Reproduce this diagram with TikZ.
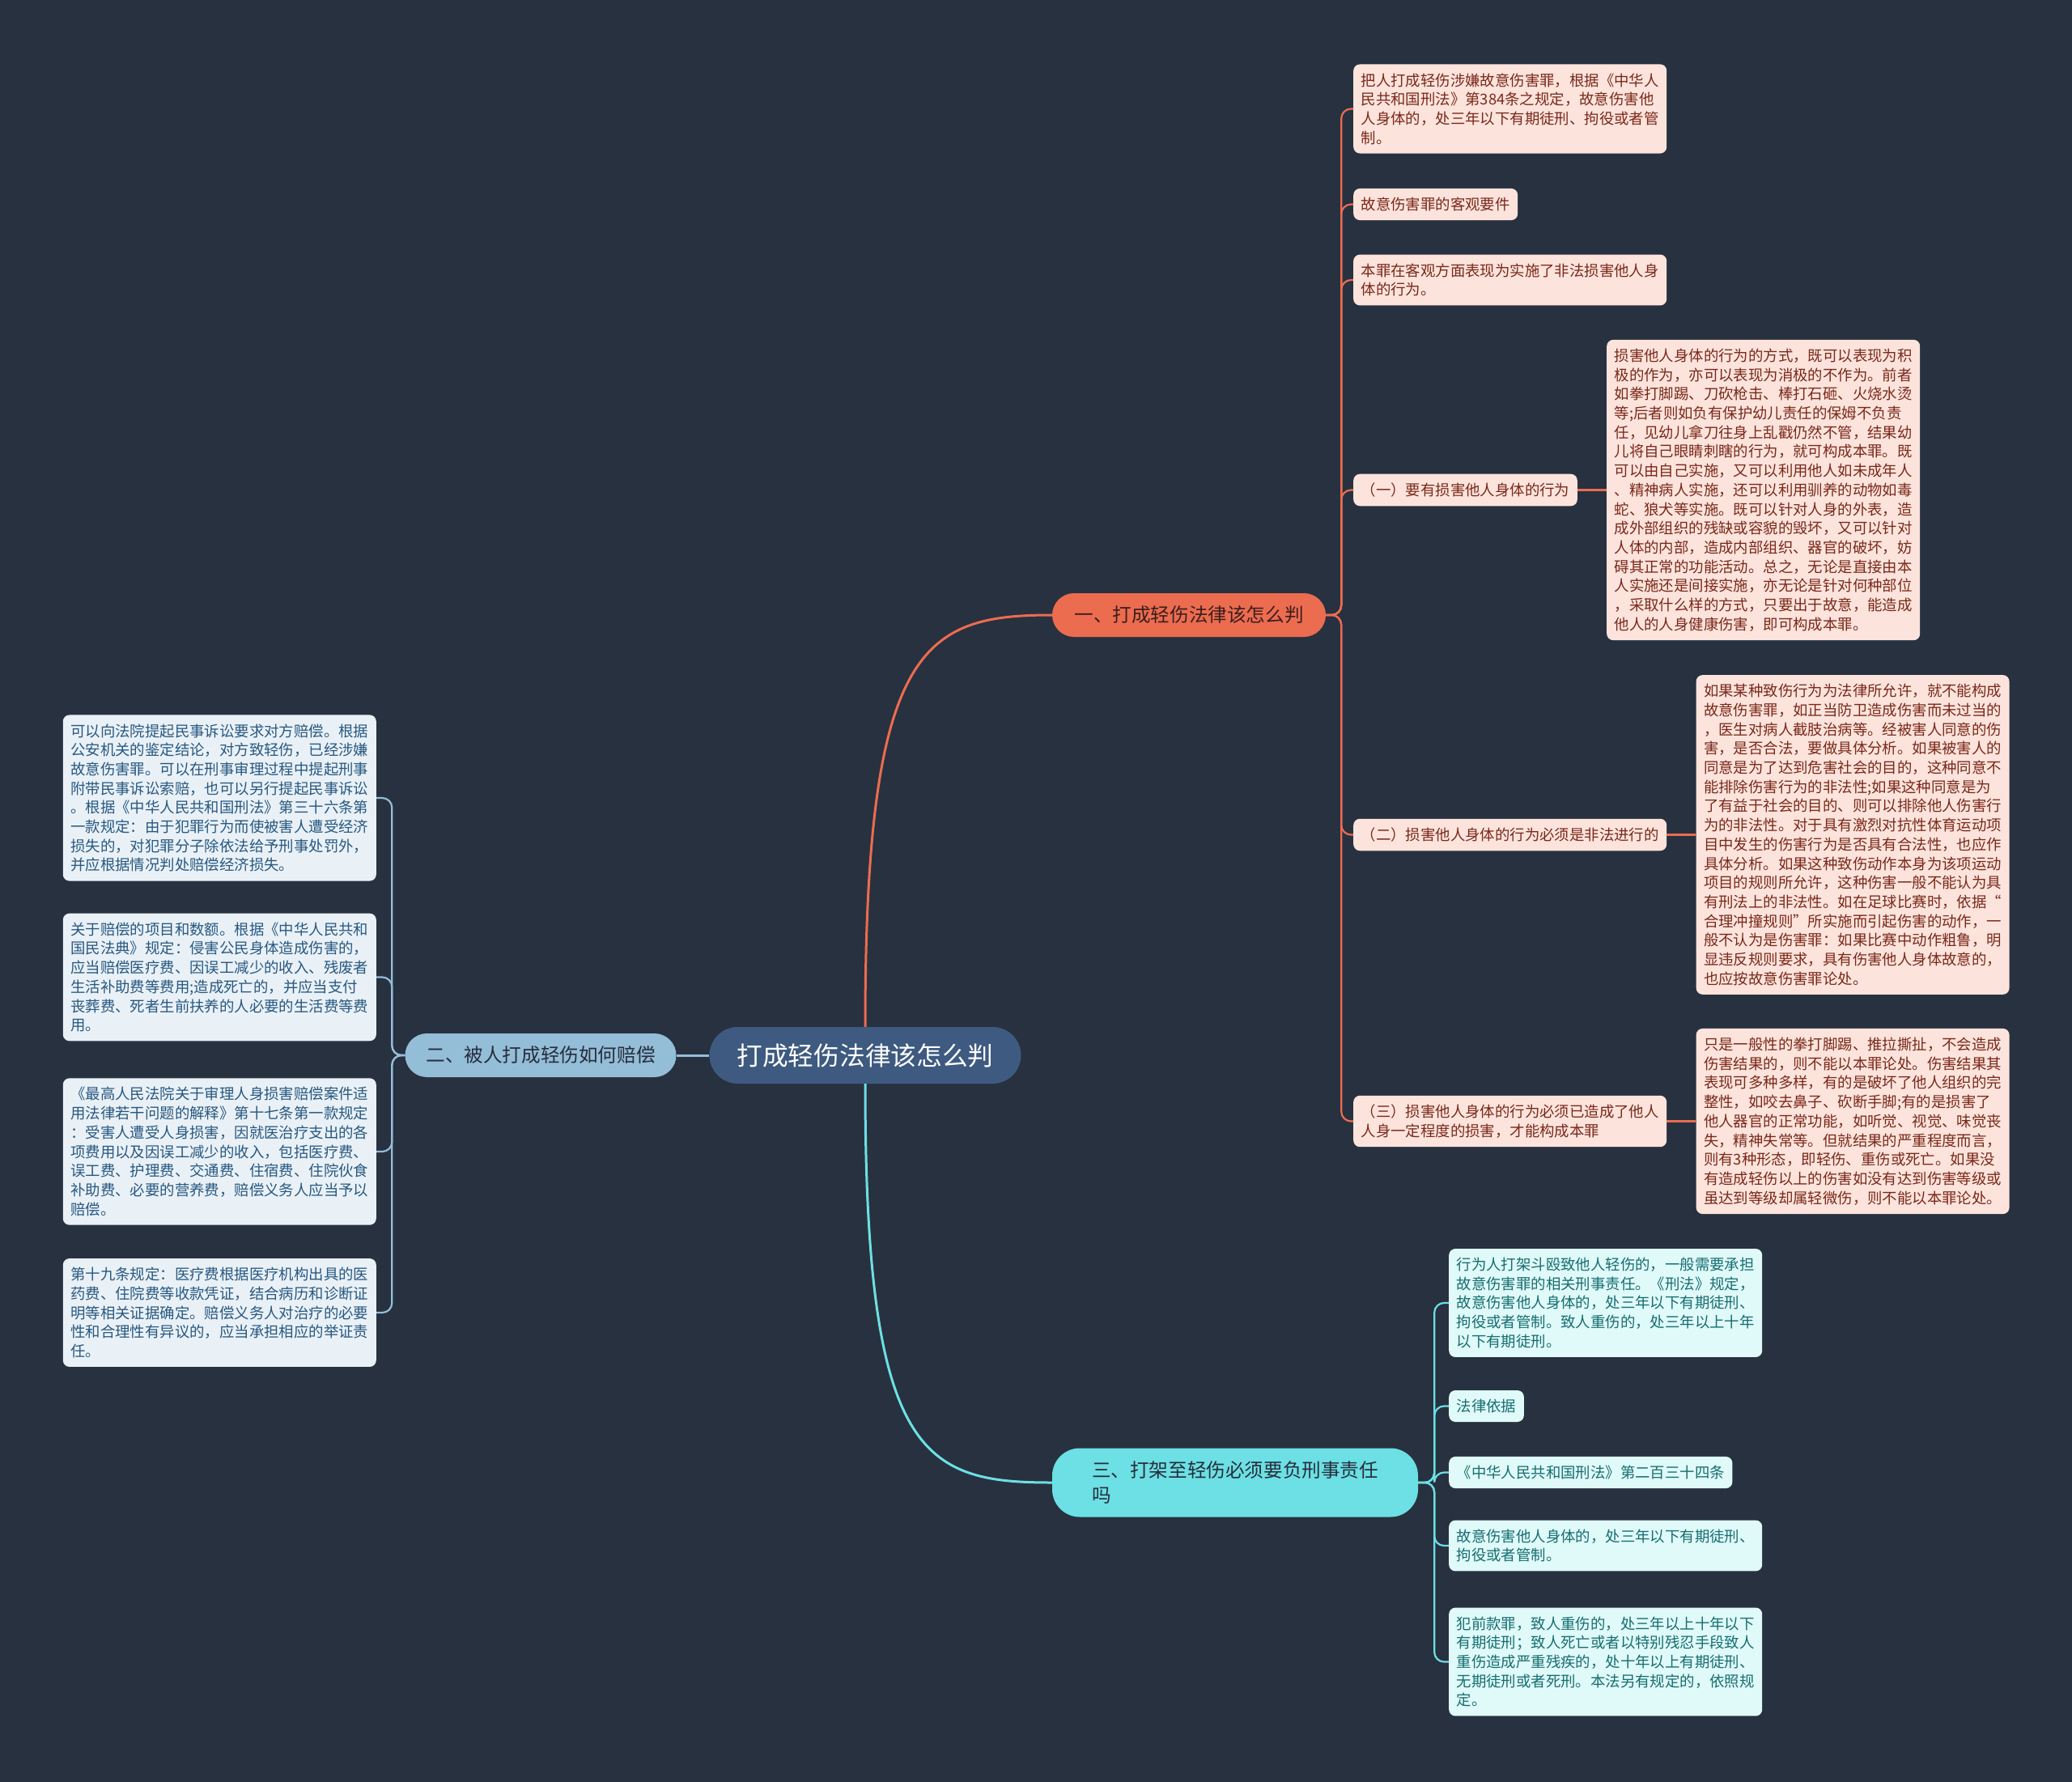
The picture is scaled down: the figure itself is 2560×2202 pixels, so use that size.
\documentclass[tikz,border=0pt]{standalone}
\usepackage{fontspec}
\setmainfont{Noto Sans CJK SC}
\usetikzlibrary{positioning}

\definecolor{fondo}{RGB}{40,49,63}
\definecolor{temafill}{RGB}{62,90,128}
\definecolor{cheng}{RGB}{236,108,80}
\definecolor{lan}{RGB}{148,189,216}
\definecolor{qing}{RGB}{108,224,228}
\definecolor{hongdi}{RGB}{252,228,220}
\definecolor{hongzi}{RGB}{122,40,26}
\definecolor{landi}{RGB}{233,241,247}
\definecolor{lanzi}{RGB}{40,88,128}
\definecolor{qingdi}{RGB}{224,249,249}
\definecolor{qingzi}{RGB}{22,110,112}
\definecolor{shenzi}{RGB}{38,46,60}
\definecolor{zongzi}{RGB}{60,30,28}

\begin{document}
\begin{tikzpicture}[x=1pt, y=-1pt,
    tema/.style={fill=temafill, text=white, rounded corners=35pt, minimum width=385pt, minimum height=70pt, font=\fontsize{31.7}{38}\selectfont},
    rama/.style={text=shenzi, rounded corners=27pt, minimum height=54pt, font=\fontsize{23.6}{31}\selectfont},
    hoja/.style={rounded corners=8pt, inner xsep=9.5pt, inner ysep=11pt, align=left, font=\fontsize{18.4}{23.7}\selectfont},
    hojaA/.style={hoja, fill=hongdi, text=hongzi},
    hojaB/.style={hoja, fill=landi, text=lanzi},
    hojaC/.style={hoja, fill=qingdi, text=qingzi},
    enlace/.style={line width=2.2pt, rounded corners=12pt}
]
\fill[fondo] (0,0) rectangle (2560,2202);

% Tema central
\node[tema] (zhuti) at (1069,1304) {打成轻伤法律该怎么判};

% Rama 1: panjue
\node[rama, fill=cheng, text=zongzi, minimum width=338pt] (panjue) at (1469,760) {一、打成轻伤法律该怎么判};
\node[hojaA, anchor=west] (pj1) at (1672,134.5) {把人打成轻伤涉嫌故意伤害罪，根据《中华人\\民共和国刑法》第384条之规定，故意伤害他\\人身体的，处三年以下有期徒刑、拘役或者管\\制。};
\node[hojaA, anchor=west] (pj2) at (1672,252.5) {故意伤害罪的客观要件};
\node[hojaA, anchor=west] (pj3) at (1672,346) {本罪在客观方面表现为实施了非法损害他人身\\体的行为。};
\node[hojaA, anchor=west] (pj4) at (1672,605.5) {（一）要有损害他人身体的行为};
\node[hojaA, right=36pt of pj4] (pj4a) {损害他人身体的行为的方式，既可以表现为积\\极的作为，亦可以表现为消极的不作为。前者\\如拳打脚踢、刀砍枪击、棒打石砸、火烧水烫\\等;后者则如负有保护幼儿责任的保姆不负责\\任，见幼儿拿刀往身上乱戳仍然不管，结果幼\\儿将自己眼睛刺瞎的行为，就可构成本罪。既\\可以由自己实施，又可以利用他人如未成年人\\、精神病人实施，还可以利用驯养的动物如毒\\蛇、狼犬等实施。既可以针对人身的外表，造\\成外部组织的残缺或容貌的毁坏，又可以针对\\人体的内部，造成内部组织、器官的破坏，妨\\碍其正常的功能活动。总之，无论是直接由本\\人实施还是间接实施，亦无论是针对何种部位\\，采取什么样的方式，只要出于故意，能造成\\他人的人身健康伤害，即可构成本罪。};
\node[hojaA, anchor=west] (pj5) at (1672,1031.5) {（二）损害他人身体的行为必须是非法进行的};
\node[hojaA, right=36pt of pj5] (pj5a) {如果某种致伤行为为法律所允许，就不能构成\\故意伤害罪，如正当防卫造成伤害而未过当的\\，医生对病人截肢治病等。经被害人同意的伤\\害，是否合法，要做具体分析。如果被害人的\\同意是为了达到危害社会的目的，这种同意不\\能排除伤害行为的非法性;如果这种同意是为\\了有益于社会的目的、则可以排除他人伤害行\\为的非法性。对于具有激烈对抗性体育运动项\\目中发生的伤害行为是否具有合法性，也应作\\具体分析。如果这种致伤动作本身为该项运动\\项目的规则所允许，这种伤害一般不能认为具\\有刑法上的非法性。如在足球比赛时，依据“\\合理冲撞规则”所实施而引起伤害的动作，一\\般不认为是伤害罪：如果比赛中动作粗鲁，明\\显违反规则要求，具有伤害他人身体故意的，\\也应按故意伤害罪论处。};
\node[hojaA, anchor=west] (pj6) at (1672,1385.5) {（三）损害他人身体的行为必须已造成了他人\\人身一定程度的损害，才能构成本罪};
\node[hojaA, right=36pt of pj6] (pj6a) {只是一般性的拳打脚踢、推拉撕扯，不会造成\\伤害结果的，则不能以本罪论处。伤害结果其\\表现可多种多样，有的是破坏了他人组织的完\\整性，如咬去鼻子、砍断手脚;有的是损害了\\他人器官的正常功能，如听觉、视觉、味觉丧\\失，精神失常等。但就结果的严重程度而言，\\则有3种形态，即轻伤、重伤或死亡。如果没\\有造成轻伤以上的伤害如没有达到伤害等级或\\虽达到等级却属轻微伤，则不能以本罪论处。};

% Rama 2: peichang
\node[rama, fill=lan, minimum width=335pt] (peichang) at (668,1304) {二、被人打成轻伤如何赔偿};
\node[hojaB, anchor=east] (pc1) at (465,986) {可以向法院提起民事诉讼要求对方赔偿。根据\\公安机关的鉴定结论，对方致轻伤，已经涉嫌\\故意伤害罪。可以在刑事审理过程中提起刑事\\附带民事诉讼索赔，也可以另行提起民事诉讼\\。根据《中华人民共和国刑法》第三十六条第\\一款规定：由于犯罪行为而使被害人遭受经济\\损失的，对犯罪分子除依法给予刑事处罚外，\\并应根据情况判处赔偿经济损失。};
\node[hojaB, anchor=east] (pc2) at (465,1207.5) {关于赔偿的项目和数额。根据《中华人民共和\\国民法典》规定：侵害公民身体造成伤害的，\\应当赔偿医疗费、因误工减少的收入、残废者\\生活补助费等费用;造成死亡的，并应当支付\\丧葬费、死者生前扶养的人必要的生活费等费\\用。};
\node[hojaB, anchor=east] (pc3) at (465,1423) {《最高人民法院关于审理人身损害赔偿案件适\\用法律若干问题的解释》第十七条第一款规定\\：受害人遭受人身损害，因就医治疗支出的各\\项费用以及因误工减少的收入，包括医疗费、\\误工费、护理费、交通费、住宿费、住院伙食\\补助费、必要的营养费，赔偿义务人应当予以\\赔偿。};
\node[hojaB, anchor=east] (pc4) at (465,1622) {第十九条规定：医疗费根据医疗机构出具的医\\药费、住院费等收款凭证，结合病历和诊断证\\明等相关证据确定。赔偿义务人对治疗的必要\\性和合理性有异议的，应当承担相应的举证责\\任。};

% Rama 3: zeren
\node[rama, fill=qing, minimum width=452pt, minimum height=85pt, rounded corners=34pt, align=left] (zeren) at (1526,1832) {三、打架至轻伤必须要负刑事责任\\吗};
\node[hojaC, anchor=west] (zr1) at (1790,1610) {行为人打架斗殴致他人轻伤的，一般需要承担\\故意伤害罪的相关刑事责任。《刑法》规定，\\故意伤害他人身体的，处三年以下有期徒刑、\\拘役或者管制。致人重伤的，处三年以上十年\\以下有期徒刑。};
\node[hojaC, anchor=west] (zr2) at (1790,1737.5) {法律依据};
\node[hojaC, anchor=west] (zr3) at (1790,1819.5) {《中华人民共和国刑法》第二百三十四条};
\node[hojaC, anchor=west] (zr4) at (1790,1910) {故意伤害他人身体的，处三年以下有期徒刑、\\拘役或者管制。};
\node[hojaC, anchor=west] (zr5) at (1790,2053.5) {犯前款罪，致人重伤的，处三年以上十年以下\\有期徒刑；致人死亡或者以特别残忍手段致人\\重伤造成严重残疾的，处十年以上有期徒刑、\\无期徒刑或者死刑。本法另有规定的，依照规\\定。};

% Conexiones
\draw[cheng, line width=3pt] (zhuti.north) .. controls +(0,-470) and +(-160,0) .. (panjue.west);
\draw[qing, line width=3pt] (zhuti.south) .. controls +(0,460) and +(-160,0) .. (zeren.west);
\draw[lan, line width=3pt] (zhuti.west) -- (peichang.east);

\foreach \h in {pj1,pj2,pj3,pj4,pj5,pj6}
  \draw[enlace, cheng] (panjue.east) -- ++(19,0) |- (\h.west);
\draw[enlace, cheng] (pj4) -- (pj4a);
\draw[enlace, cheng] (pj5) -- (pj5a);
\draw[enlace, cheng] (pj6) -- (pj6a);

\foreach \h in {pc1,pc2,pc3,pc4}
  \draw[enlace, lan] (peichang.west) -- ++(-16,0) |- (\h.east);

\foreach \h in {zr1,zr2,zr3,zr4,zr5}
  \draw[enlace, qing] (zeren.east) -- ++(20,0) |- (\h.west);

\end{tikzpicture}
\end{document}
